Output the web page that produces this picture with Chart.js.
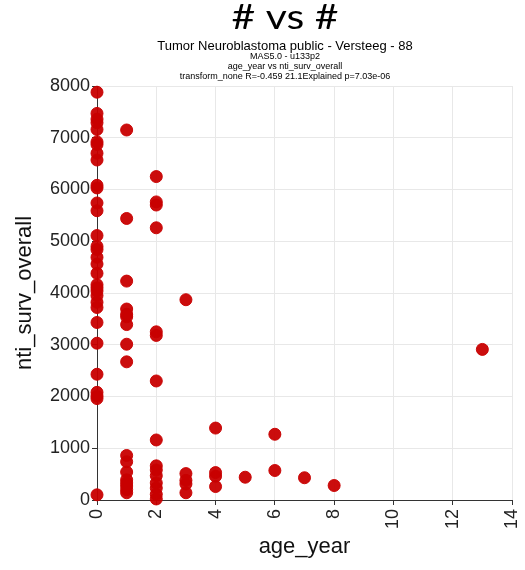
<!DOCTYPE html>
<html>
<head>
<meta charset="utf-8">
<script src="https://cdn.jsdelivr.net/npm/chart.js@4.4.0/dist/chart.umd.min.js"></script>
<style>
  html, body { margin: 0; padding: 0; background: #fff; }
  #wrap { width: 525px; height: 570px; }
</style>
</head>
<body>
<div id="wrap"><canvas id="scatterChart" width="525" height="570"></canvas></div>
<script>
// values, grouped by age_year
const ageYear = [
    0, 0, 0, 0, 0, 0, 0, 0, 0, 0, 0, 0, 0, 0, 0, 0,
    0, 0, 0, 0, 0, 0, 0, 0, 0, 0, 0, 0, 0, 0, 0, 0,
    1, 1, 1, 1, 1, 1, 1, 1, 1, 1, 1, 1, 1, 1, 1, 1, 1,
    2, 2, 2, 2, 2, 2, 2, 2, 2, 2, 2, 2, 2, 2, 2,
    3, 3, 3, 3, 3,
    4, 4, 4, 4,
    5,
    6, 6,
    7,
    8,
    13
];
const survOverall = [
    7880, 7470, 7360, 7290, 7160, 6920, 6870, 6700, 6570, 6080, 6030, 5740, 5590, 5110, 4900, 4840,
    4690, 4560, 4380, 4160, 4100, 4040, 3950, 3820, 3720, 3430, 3030, 2430, 2080, 2010, 1960, 100,
    7150, 5440, 4230, 3690, 3590, 3540, 3390, 3010, 2670, 860, 740, 540, 390, 330, 270, 200, 140,
    6250, 5760, 5700, 5260, 3250, 3180, 2300, 1160, 660, 580, 470, 330, 230, 110, 20,
    3870, 510, 380, 310, 140,
    1390, 530, 460, 260,
    440,
    1270, 570,
    430,
    280,
    2910
];
const xTicks = [0, 2, 4, 6, 8, 10, 12, 14];
const yTicks = [0, 1000, 2000, 3000, 4000, 5000, 6000, 7000, 8000];

const titleLines = [
    { text: '# vs #', font: '34px Lato', y: 18, width: 107 },
    { text: 'Tumor Neuroblastoma public - Versteeg - 88', font: '13px "Liberation Sans"', y: 46 },
    { text: 'MAS5.0 - u133p2', font: '9px "Liberation Sans"', y: 57 },
    { text: 'age_year vs nti_surv_overall', font: '9px "Liberation Sans"', y: 67 },
    { text: 'transform_none R=-0.459 21.1Explained p=7.03e-06', font: '9px "Liberation Sans"', y: 77 }
];

// draw the stacked titles above the plot
const titlePlugin = {
    id: 'titleLines',
    afterDraw(chart) {
        const ctx = chart.ctx;
        ctx.save();
        ctx.fillStyle = '#000';
        ctx.textAlign = 'center';
        ctx.textBaseline = 'middle';
        titleLines.forEach(line => {
            ctx.font = line.font;
            if (line.width) {
                // big heading is drawn wider than the font's own shape
                const sx = line.width / ctx.measureText(line.text).width;
                ctx.save();
                ctx.translate(285, line.y);
                ctx.scale(sx, 1);
                ctx.fillText(line.text, 0, 0);
                ctx.restore();
            } else {
                ctx.fillText(line.text, 285, line.y);
            }
        });
        ctx.restore();
    }
};

const points = ageYear.map((x, i) => ({ x: x, y: survOverall[i] }));

const ctx = document.getElementById('scatterChart').getContext('2d');
const scatterChart = new Chart(ctx, {
    type: 'scatter',
    data: {
        datasets: [{
            data: points,
            backgroundColor: 'rgba(200, 0, 0, 0.95)',
            borderColor: 'rgba(200, 0, 0, 0.95)',
            pointRadius: 6,
            pointHoverRadius: 6,
            clip: false
        }]
    },
    options: {
        responsive: false,
        animation: false,
        layout: { padding: { top: 86, right: 13, left: 0, bottom: 0 } },
        plugins: {
            legend: { display: false },
            tooltip: { enabled: false }
        },
        scales: {
            x: {
                type: 'linear',
                min: 0,
                max: 14,
                afterBuildTicks: scale => { scale.ticks = xTicks.map(v => ({ value: v })); },
                afterFit: scale => {
                    scale.height = 70;
                    scale.paddingLeft = 0;
                    scale.paddingRight = 0;
                },
                ticks: {
                    color: '#222',
                    font: { family: 'Liberation Sans', size: 18 },
                    minRotation: 90,
                    maxRotation: 90,
                    padding: 4
                },
                grid: { color: '#e8e8e8', tickColor: '#333', tickLength: 5 },
                border: { color: '#333', width: 1 },
                title: {
                    display: true,
                    text: 'age_year',
                    color: '#111',
                    font: { family: 'Liberation Sans', size: 22 },
                    padding: { top: 0, bottom: 10 }
                }
            },
            y: {
                type: 'linear',
                min: 0,
                max: 8000,
                afterBuildTicks: scale => { scale.ticks = yTicks.map(v => ({ value: v })); },
                afterFit: scale => { scale.width = 97; },
                ticks: {
                    color: '#222',
                    font: { family: 'Liberation Sans', size: 18 },
                    padding: 2,
                    callback: v => String(v)
                },
                grid: { color: '#e8e8e8', tickColor: '#333', tickLength: 5 },
                border: { color: '#333', width: 1 },
                title: {
                    display: true,
                    text: 'nti_surv_overall',
                    color: '#111',
                    font: { family: 'Liberation Sans', size: 22 },
                    padding: { top: 12, bottom: 0 }
                }
            }
        }
    },
    plugins: [titlePlugin]
});
</script>
</body>
</html>
